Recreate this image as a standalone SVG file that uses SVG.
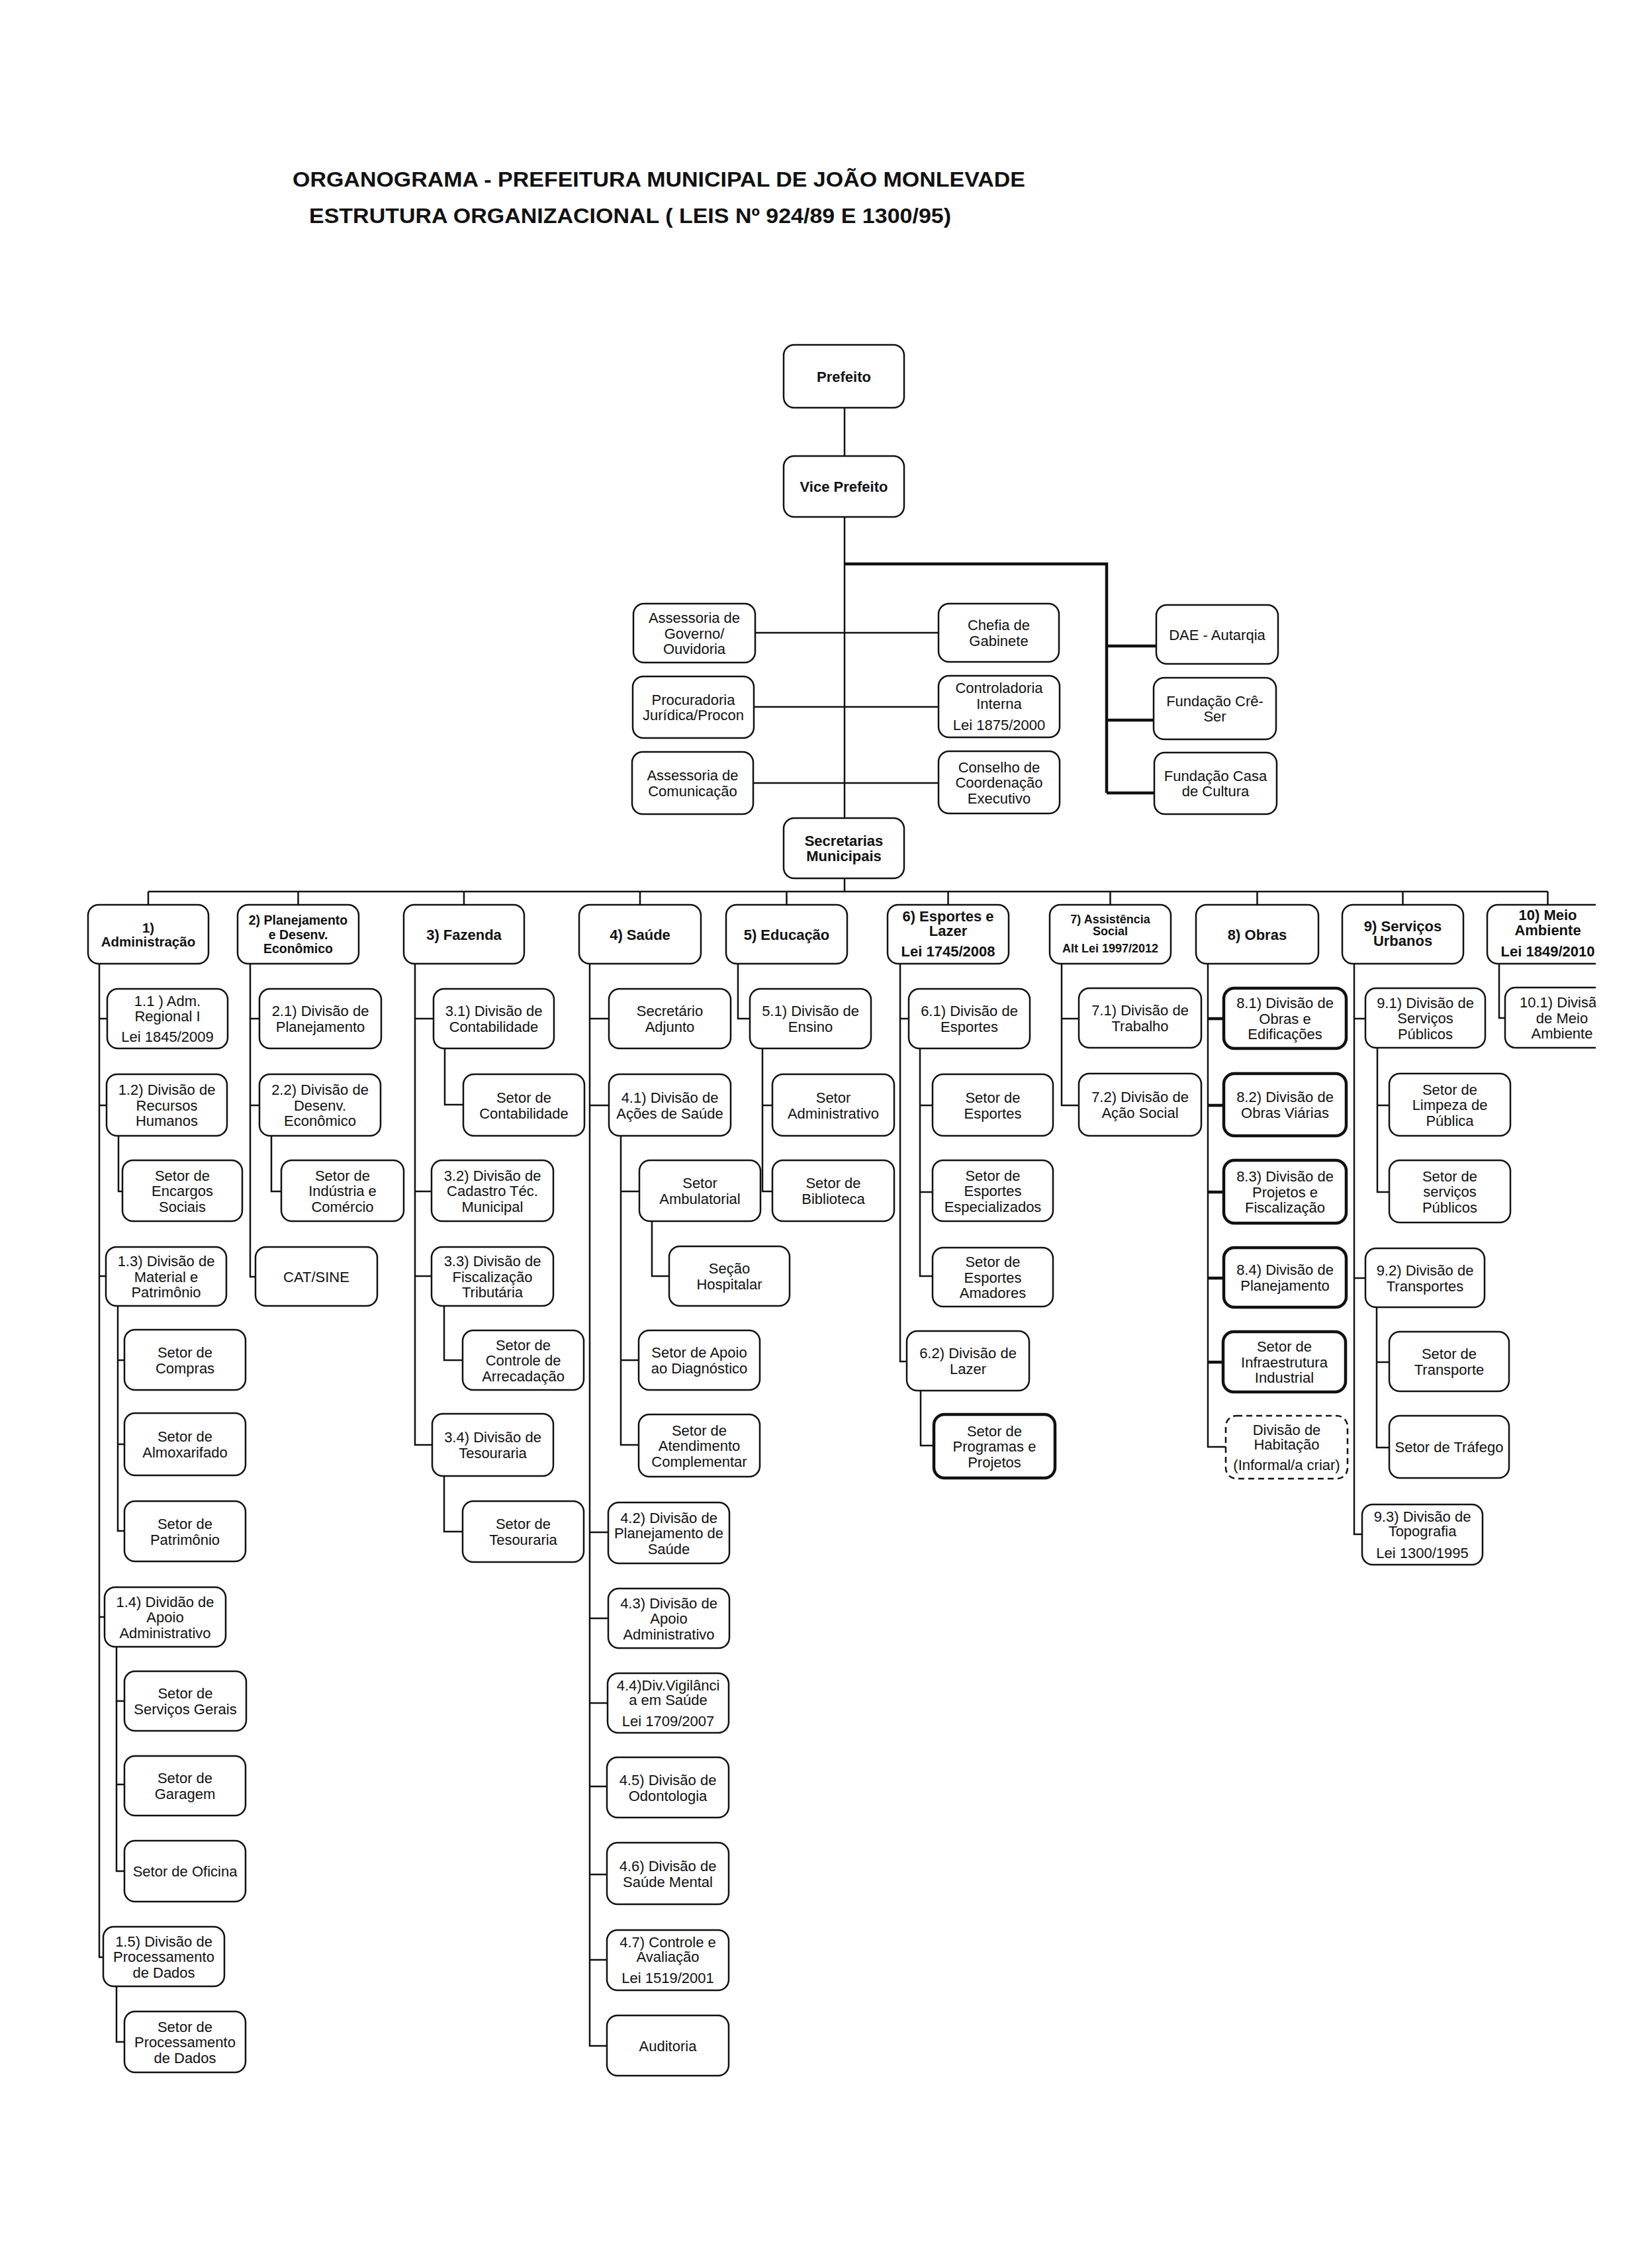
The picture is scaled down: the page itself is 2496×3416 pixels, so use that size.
<svg xmlns="http://www.w3.org/2000/svg" width="2496" height="3416" viewBox="0 0 2496 3416">
<style>
.b{fill:#fff;stroke:#111;stroke-width:2.5}
.bt{stroke-width:4.5}
.bd{stroke-dasharray:9 6}
text{font-family:"Liberation Sans",Arial,sans-serif;font-size:22px;fill:#111;text-anchor:middle}
.bo{font-weight:bold}
.c{fill:none;stroke:#111;stroke-width:2.5}
.ck{stroke-width:4.5}
.ttl{font-size:32px;font-weight:bold;text-anchor:start}
</style>
<defs>
<clipPath id="cut"><rect x="0" y="0" width="2411" height="3416"/></clipPath>
</defs>
<rect x="0" y="0" width="2496" height="3416" fill="#fff"/>
<g id="title">
<text class="ttl" x="442" y="282" textLength="1107" lengthAdjust="spacingAndGlyphs">ORGANOGRAMA - PREFEITURA MUNICIPAL DE JOÃO MONLEVADE</text>
<text class="ttl" x="467" y="337" textLength="970" lengthAdjust="spacingAndGlyphs">ESTRUTURA ORGANIZACIONAL ( LEIS Nº 924/89 E 1300/95)</text>
</g>
<g id="connectors">
<path class="c" d="M1276 616V689M1276 781V1236M1141 956H1418M1139 1068H1418M1138 1183H1418M1276 1327V1347M224 1347H2338.5"/>
<path class="c ck" d="M1276 852H1672V1198M1672 976H1747M1672 1088H1743M1672 1198H1744"/>
<path class="c" d="M224 1347V1367M450.5 1347V1367M701 1347V1367M967 1347V1367M1188.5 1347V1367M1432.5 1347V1367M1677.5 1347V1367M1899.5 1347V1367M2119.5 1347V1367M2338.5 1347V1367"/>
<path class="c" d="M150 1456V2957H156M150 1539H162M150 1670H161M150 1928H160M150 2443H158M179 1716V1800H185M178 1973V2313H188M178 2055H188M178 2182H188M176 2488V2827H188M176 2570H188M176 2696H188M176 3001V3085H188"/>
<path class="c" d="M378 1456V1929H386M378 1539H392M378 1670H392M410 1716V1800H425"/>
<path class="c" d="M627 1456V2183H653M627 1539H655M627 1800H652M627 1928H652M672 1584V1669H700M671 1973V2055H699M671 2230V2314H699"/>
<path class="c" d="M891 1456V3091H917M891 1539H920M891 1670H920M891 2315H919M891 2445H919M891 2573H918M891 2699H917M891 2832H917M891 2961H917M938 1716V2183H965M938 1800H966M938 2055H965M985 1845V1928H1011"/>
<path class="c" d="M1115 1456V1539H1133M1152 1584V1800H1167M1152 1670H1167"/>
<path class="c" d="M1360 1456V2057H1370M1360 1539H1373M1390 1584V1928H1409M1390 1670H1409M1390 1801H1409M1391 2101V2184H1411"/>
<path class="c" d="M1604 1456V1670H1630M1604 1539H1630"/>
<path class="c" d="M1825 1456V2186H1852"/>
<path class="c ck" d="M1825 1539H1849M1825 1670H1849M1825 1801H1849M1825 1931H1849M1825 2058H1848"/>
<path class="c" d="M2046 1456V2318H2058M2046 1539H2063M2046 1931H2063M2081 1583V1801H2099M2081 1670H2099M2080 1975V2187H2099M2080 2058H2099"/>
<path class="c" d="M2265 1456V1538H2274"/>
</g>
<g id="prefeito"><rect class="b" x="1184" y="521" width="182" height="95" rx="16"/><text class="bo" x="1275" y="576.5">Prefeito</text></g>
<g id="vice-prefeito"><rect class="b" x="1184" y="689" width="182" height="92" rx="16"/><text class="bo" x="1275" y="743">Vice Prefeito</text></g>
<g id="assessoria-governo"><rect class="b" x="957" y="912" width="184" height="89" rx="16"/><text x="1049"><tspan x="1049" y="941">Assessoria de</tspan><tspan x="1049" y="964.5">Governo/</tspan><tspan x="1049" y="988">Ouvidoria</tspan></text></g>
<g id="chefia-gabinete"><rect class="b" x="1418" y="912" width="182" height="88" rx="16"/><text x="1509"><tspan x="1509" y="952">Chefia de</tspan><tspan x="1509" y="976">Gabinete</tspan></text></g>
<g id="dae"><rect class="b" x="1747" y="914" width="184" height="89" rx="16"/><text x="1839" y="966.5">DAE - Autarqia</text></g>
<g id="procuradoria"><rect class="b" x="956" y="1022" width="183" height="93" rx="16"/><text x="1047.5"><tspan x="1047.5" y="1064.5">Procuradoria</tspan><tspan x="1047.5" y="1088">Jurídica/Procon</tspan></text></g>
<g id="controladoria"><rect class="b" x="1418" y="1021" width="183" height="93" rx="16"/><text x="1509.5"><tspan x="1509.5" y="1047">Controladoria</tspan><tspan x="1509.5" y="1071">Interna</tspan><tspan x="1509.5" y="1103">Lei 1875/2000</tspan></text></g>
<g id="fundacao-cre-ser"><rect class="b" x="1743" y="1024" width="185" height="93" rx="16"/><text x="1835.5"><tspan x="1835.5" y="1067">Fundação Crê-</tspan><tspan x="1835.5" y="1090">Ser</tspan></text></g>
<g id="assessoria-comunicacao"><rect class="b" x="955" y="1136" width="183" height="94" rx="16"/><text x="1046.5"><tspan x="1046.5" y="1179">Assessoria de</tspan><tspan x="1046.5" y="1203">Comunicação</tspan></text></g>
<g id="conselho"><rect class="b" x="1418" y="1135" width="183" height="94" rx="16"/><text x="1509.5"><tspan x="1509.5" y="1166.5">Conselho de</tspan><tspan x="1509.5" y="1190">Coordenação</tspan><tspan x="1509.5" y="1213.5">Executivo</tspan></text></g>
<g id="fundacao-casa-cultura"><rect class="b" x="1744" y="1137" width="185" height="93" rx="16"/><text x="1836.5"><tspan x="1836.5" y="1179.5">Fundação Casa</tspan><tspan x="1836.5" y="1203">de Cultura</tspan></text></g>
<g id="secretarias"><rect class="b" x="1184" y="1236" width="182" height="91" rx="16"/><text class="bo" x="1275"><tspan x="1275" y="1277.5">Secretarias</tspan><tspan x="1275" y="1301">Municipais</tspan></text></g>

<g id="d1"><rect class="b" x="133" y="1367" width="182" height="89" rx="16"/><text class="bo" style="font-size:20.5px"><tspan x="224" y="1409">1)</tspan><tspan x="224" y="1430">Administração</tspan></text></g>
<g id="d2"><rect class="b" x="359" y="1367" width="183" height="89" rx="16"/><text class="bo" style="font-size:19.5px"><tspan x="450.5" y="1397">2) Planejamento</tspan><tspan x="450.5" y="1419">e Desenv.</tspan><tspan x="450.5" y="1440">Econômico</tspan></text></g>
<g id="d3"><rect class="b" x="610" y="1367" width="182" height="89" rx="16"/><text class="bo" x="701" y="1419.5">3) Fazenda</text></g>
<g id="d4"><rect class="b" x="875" y="1367" width="184" height="89" rx="16"/><text class="bo" x="967" y="1419.5">4) Saúde</text></g>
<g id="d5"><rect class="b" x="1097" y="1367" width="183" height="89" rx="16"/><text class="bo" x="1188.5" y="1419.5">5) Educação</text></g>
<g id="d6"><rect class="b" x="1341" y="1367" width="183" height="89" rx="16"/><text class="bo"><tspan x="1432.5" y="1392">6) Esportes e</tspan><tspan x="1432.5" y="1414">Lazer</tspan><tspan x="1432.5" y="1445">Lei 1745/2008</tspan></text></g>
<g id="d7"><rect class="b" x="1586" y="1367" width="183" height="89" rx="16"/><text class="bo" style="font-size:18px"><tspan x="1677.5" y="1395">7) Assistência</tspan><tspan x="1677.5" y="1413">Social</tspan><tspan x="1677.5" y="1439">Alt Lei 1997/2012</tspan></text></g>
<g id="d8"><rect class="b" x="1807" y="1367" width="185" height="89" rx="16"/><text class="bo" x="1899.5" y="1419.5">8) Obras</text></g>
<g id="d9"><rect class="b" x="2028" y="1367" width="183" height="89" rx="16"/><text class="bo"><tspan x="2119.5" y="1407">9) Serviços</tspan><tspan x="2119.5" y="1429">Urbanos</tspan></text></g>
<g id="d10" clip-path="url(#cut)"><rect class="b" x="2247" y="1367" width="183" height="89" rx="16"/><text class="bo"><tspan x="2338.5" y="1390">10) Meio</tspan><tspan x="2338.5" y="1413">Ambiente</tspan><tspan x="2338.5" y="1445">Lei 1849/2010</tspan></text></g>

<g id="n1-1"><rect class="b" x="162" y="1494" width="182" height="90" rx="16"/><text><tspan x="253" y="1520">1.1 ) Adm.</tspan><tspan x="253" y="1543">Regional I</tspan><tspan x="253" y="1574">Lei 1845/2009</tspan></text></g>
<g id="n1-2"><rect class="b" x="161" y="1623" width="182" height="93" rx="16"/><text><tspan x="252" y="1654">1.2) Divisão de</tspan><tspan x="252" y="1677.5">Recursos</tspan><tspan x="252" y="1701">Humanos</tspan></text></g>
<g id="n1-2a"><rect class="b" x="185" y="1753" width="181" height="92" rx="16"/><text><tspan x="275.5" y="1783.5">Setor de</tspan><tspan x="275.5" y="1807">Encargos</tspan><tspan x="275.5" y="1830.5">Sociais</tspan></text></g>
<g id="n1-3"><rect class="b" x="160" y="1884" width="182" height="89" rx="16"/><text><tspan x="251" y="1913">1.3) Divisão de</tspan><tspan x="251" y="1936.5">Material e</tspan><tspan x="251" y="1960">Patrimônio</tspan></text></g>
<g id="n1-3a"><rect class="b" x="188" y="2009" width="183" height="91" rx="16"/><text><tspan x="279.5" y="2050.5">Setor de</tspan><tspan x="279.5" y="2074.5">Compras</tspan></text></g>
<g id="n1-3b"><rect class="b" x="188" y="2135" width="183" height="94" rx="16"/><text><tspan x="279.5" y="2178">Setor de</tspan><tspan x="279.5" y="2202">Almoxarifado</tspan></text></g>
<g id="n1-3c"><rect class="b" x="188" y="2268" width="183" height="91" rx="16"/><text><tspan x="279.5" y="2309.5">Setor de</tspan><tspan x="279.5" y="2333.5">Patrimônio</tspan></text></g>
<g id="n1-4"><rect class="b" x="158" y="2398" width="183" height="90" rx="16"/><text><tspan x="249.5" y="2427.5">1.4) Dividão de</tspan><tspan x="249.5" y="2451">Apoio</tspan><tspan x="249.5" y="2474.5">Administrativo</tspan></text></g>
<g id="n1-4a"><rect class="b" x="188" y="2525" width="184" height="90" rx="16"/><text><tspan x="280" y="2566">Setor de</tspan><tspan x="280" y="2590">Serviços Gerais</tspan></text></g>
<g id="n1-4b"><rect class="b" x="188" y="2653" width="183" height="90" rx="16"/><text><tspan x="279.5" y="2694">Setor de</tspan><tspan x="279.5" y="2718">Garagem</tspan></text></g>
<g id="n1-4c"><rect class="b" x="188" y="2781" width="183" height="92" rx="16"/><text x="279.5" y="2835">Setor de Oficina</text></g>
<g id="n1-5"><rect class="b" x="156" y="2911" width="183" height="90" rx="16"/><text><tspan x="247.5" y="2940.5">1.5) Divisão de</tspan><tspan x="247.5" y="2964">Processamento</tspan><tspan x="247.5" y="2987.5">de Dados</tspan></text></g>
<g id="n1-5a"><rect class="b" x="188" y="3039" width="183" height="92" rx="16"/><text><tspan x="279.5" y="3069.5">Setor de</tspan><tspan x="279.5" y="3093">Processamento</tspan><tspan x="279.5" y="3116.5">de Dados</tspan></text></g>

<g id="n2-1"><rect class="b" x="392" y="1494" width="184" height="90" rx="16"/><text><tspan x="484" y="1535">2.1) Divisão de</tspan><tspan x="484" y="1559">Planejamento</tspan></text></g>
<g id="n2-2"><rect class="b" x="392" y="1623" width="183" height="93" rx="16"/><text><tspan x="483.5" y="1654">2.2) Divisão de</tspan><tspan x="483.5" y="1677.5">Desenv.</tspan><tspan x="483.5" y="1701">Econômico</tspan></text></g>
<g id="n2-2a"><rect class="b" x="425" y="1753" width="185" height="92" rx="16"/><text><tspan x="517.5" y="1783.5">Setor de</tspan><tspan x="517.5" y="1807">Indústria e</tspan><tspan x="517.5" y="1830.5">Comércio</tspan></text></g>
<g id="n2-3"><rect class="b" x="386" y="1884" width="184" height="89" rx="16"/><text x="478" y="1936.5">CAT/SINE</text></g>

<g id="n3-1"><rect class="b" x="655" y="1494" width="182" height="90" rx="16"/><text><tspan x="746" y="1535">3.1) Divisão de</tspan><tspan x="746" y="1559">Contabilidade</tspan></text></g>
<g id="n3-1a"><rect class="b" x="700" y="1623" width="183" height="93" rx="16"/><text><tspan x="791.5" y="1665.5">Setor de</tspan><tspan x="791.5" y="1689.5">Contabilidade</tspan></text></g>
<g id="n3-2"><rect class="b" x="652" y="1753" width="184" height="92" rx="16"/><text><tspan x="744" y="1783.5">3.2) Divisão de</tspan><tspan x="744" y="1807">Cadastro Téc.</tspan><tspan x="744" y="1830.5">Municipal</tspan></text></g>
<g id="n3-3"><rect class="b" x="652" y="1884" width="184" height="89" rx="16"/><text><tspan x="744" y="1913">3.3) Divisão de</tspan><tspan x="744" y="1936.5">Fiscalização</tspan><tspan x="744" y="1960">Tributária</tspan></text></g>
<g id="n3-3a"><rect class="b" x="699" y="2010" width="183" height="90" rx="16"/><text><tspan x="790.5" y="2039.5">Setor de</tspan><tspan x="790.5" y="2063">Controle de</tspan><tspan x="790.5" y="2086.5">Arrecadação</tspan></text></g>
<g id="n3-4"><rect class="b" x="653" y="2136" width="183" height="94" rx="16"/><text><tspan x="744.5" y="2179">3.4) Divisão de</tspan><tspan x="744.5" y="2203">Tesouraria</tspan></text></g>
<g id="n3-4a"><rect class="b" x="699" y="2268" width="183" height="92" rx="16"/><text><tspan x="790.5" y="2310">Setor de</tspan><tspan x="790.5" y="2334">Tesouraria</tspan></text></g>

<g id="n4-0"><rect class="b" x="920" y="1494" width="184" height="90" rx="16"/><text><tspan x="1012" y="1535">Secretário</tspan><tspan x="1012" y="1559">Adjunto</tspan></text></g>
<g id="n4-1"><rect class="b" x="920" y="1623" width="184" height="93" rx="16"/><text><tspan x="1012" y="1665.5">4.1) Divisão de</tspan><tspan x="1012" y="1689.5">Ações de Saúde</tspan></text></g>
<g id="n4-1a"><rect class="b" x="966" y="1753" width="183" height="92" rx="16"/><text><tspan x="1057.5" y="1795">Setor</tspan><tspan x="1057.5" y="1819">Ambulatorial</tspan></text></g>
<g id="n4-1a1"><rect class="b" x="1011" y="1883" width="182" height="90" rx="16"/><text><tspan x="1102" y="1924">Seção</tspan><tspan x="1102" y="1948">Hospitalar</tspan></text></g>
<g id="n4-1b"><rect class="b" x="965" y="2010" width="183" height="90" rx="16"/><text><tspan x="1056.5" y="2051">Setor de Apoio</tspan><tspan x="1056.5" y="2075">ao Diagnóstico</tspan></text></g>
<g id="n4-1c"><rect class="b" x="965" y="2137" width="183" height="94" rx="16"/><text><tspan x="1056.5" y="2168.5">Setor de</tspan><tspan x="1056.5" y="2192">Atendimento</tspan><tspan x="1056.5" y="2215.5">Complementar</tspan></text></g>
<g id="n4-2"><rect class="b" x="919" y="2270" width="183" height="92" rx="16"/><text><tspan x="1010.5" y="2300.5">4.2) Divisão de</tspan><tspan x="1010.5" y="2324">Planejamento de</tspan><tspan x="1010.5" y="2347.5">Saúde</tspan></text></g>
<g id="n4-3"><rect class="b" x="919" y="2400" width="183" height="90" rx="16"/><text><tspan x="1010.5" y="2429.5">4.3) Divisão de</tspan><tspan x="1010.5" y="2453">Apoio</tspan><tspan x="1010.5" y="2476.5">Administrativo</tspan></text></g>
<g id="n4-4"><rect class="b" x="918" y="2528" width="183" height="90" rx="16"/><text><tspan x="1009.5" y="2554">4.4)Div.Vigilânci</tspan><tspan x="1009.5" y="2576">a em Saúde</tspan><tspan x="1009.5" y="2608">Lei 1709/2007</tspan></text></g>
<g id="n4-5"><rect class="b" x="917" y="2655" width="184" height="91" rx="16"/><text><tspan x="1009" y="2696.5">4.5) Divisão de</tspan><tspan x="1009" y="2720.5">Odontologia</tspan></text></g>
<g id="n4-6"><rect class="b" x="917" y="2784" width="184" height="93" rx="16"/><text><tspan x="1009" y="2826.5">4.6) Divisão de</tspan><tspan x="1009" y="2850.5">Saúde Mental</tspan></text></g>
<g id="n4-7"><rect class="b" x="917" y="2916" width="184" height="91" rx="16"/><text><tspan x="1009" y="2942">4.7) Controle e</tspan><tspan x="1009" y="2964">Avaliação</tspan><tspan x="1009" y="2996">Lei 1519/2001</tspan></text></g>
<g id="n4-8"><rect class="b" x="917" y="3045" width="184" height="91" rx="16"/><text x="1009" y="3098.5">Auditoria</text></g>

<g id="n5-1"><rect class="b" x="1133" y="1494" width="183" height="90" rx="16"/><text><tspan x="1224.5" y="1535">5.1) Divisão de</tspan><tspan x="1224.5" y="1559">Ensino</tspan></text></g>
<g id="n5-1a"><rect class="b" x="1167" y="1623" width="184" height="93" rx="16"/><text><tspan x="1259" y="1665.5">Setor</tspan><tspan x="1259" y="1689.5">Administrativo</tspan></text></g>
<g id="n5-1b"><rect class="b" x="1167" y="1753" width="184" height="92" rx="16"/><text><tspan x="1259" y="1795">Setor de</tspan><tspan x="1259" y="1819">Biblioteca</tspan></text></g>

<g id="n6-1"><rect class="b" x="1373" y="1494" width="183" height="90" rx="16"/><text><tspan x="1464.5" y="1535">6.1) Divisão de</tspan><tspan x="1464.5" y="1559">Esportes</tspan></text></g>
<g id="n6-1a"><rect class="b" x="1409" y="1623" width="182" height="93" rx="16"/><text><tspan x="1500" y="1665.5">Setor de</tspan><tspan x="1500" y="1689.5">Esportes</tspan></text></g>
<g id="n6-1b"><rect class="b" x="1409" y="1753" width="182" height="92" rx="16"/><text><tspan x="1500" y="1783.5">Setor de</tspan><tspan x="1500" y="1807">Esportes</tspan><tspan x="1500" y="1830.5">Especializados</tspan></text></g>
<g id="n6-1c"><rect class="b" x="1409" y="1885" width="182" height="89" rx="16"/><text><tspan x="1500" y="1914">Setor de</tspan><tspan x="1500" y="1937.5">Esportes</tspan><tspan x="1500" y="1961">Amadores</tspan></text></g>
<g id="n6-2"><rect class="b" x="1370" y="2011" width="185" height="90" rx="16"/><text><tspan x="1462.5" y="2052">6.2) Divisão de</tspan><tspan x="1462.5" y="2076">Lazer</tspan></text></g>
<g id="n6-2a"><rect class="b bt" x="1411" y="2137" width="183" height="96" rx="16"/><text><tspan x="1502.5" y="2169.5">Setor de</tspan><tspan x="1502.5" y="2193">Programas e</tspan><tspan x="1502.5" y="2216.5">Projetos</tspan></text></g>

<g id="n7-1"><rect class="b" x="1630" y="1493" width="185" height="90" rx="16"/><text><tspan x="1722.5" y="1534">7.1) Divisão de</tspan><tspan x="1722.5" y="1558">Trabalho</tspan></text></g>
<g id="n7-2"><rect class="b" x="1630" y="1622" width="185" height="94" rx="16"/><text><tspan x="1722.5" y="1665">7.2) Divisão de</tspan><tspan x="1722.5" y="1689">Ação Social</tspan></text></g>

<g id="n8-1"><rect class="b bt" x="1849" y="1493" width="185" height="91" rx="16"/><text><tspan x="1941.5" y="1523">8.1) Divisão de</tspan><tspan x="1941.5" y="1546.5">Obras e</tspan><tspan x="1941.5" y="1570">Edificações</tspan></text></g>
<g id="n8-2"><rect class="b bt" x="1849" y="1622" width="185" height="94" rx="16"/><text><tspan x="1941.5" y="1665">8.2) Divisão de</tspan><tspan x="1941.5" y="1689">Obras Viárias</tspan></text></g>
<g id="n8-3"><rect class="b bt" x="1849" y="1753" width="185" height="95" rx="16"/><text><tspan x="1941.5" y="1785">8.3) Divisão de</tspan><tspan x="1941.5" y="1808.5">Projetos e</tspan><tspan x="1941.5" y="1832">Fiscalização</tspan></text></g>
<g id="n8-4"><rect class="b bt" x="1849" y="1885" width="185" height="90" rx="16"/><text><tspan x="1941.5" y="1926">8.4) Divisão de</tspan><tspan x="1941.5" y="1950">Planejamento</tspan></text></g>
<g id="n8-5"><rect class="b bt" x="1848" y="2012" width="185" height="91" rx="16"/><text><tspan x="1940.5" y="2042">Setor de</tspan><tspan x="1940.5" y="2065.5">Infraestrutura</tspan><tspan x="1940.5" y="2089">Industrial</tspan></text></g>
<g id="n8-6"><rect class="b bd" x="1852" y="2139" width="184" height="95" rx="16"/><text><tspan x="1944" y="2168">Divisão de</tspan><tspan x="1944" y="2190">Habitação</tspan><tspan x="1944" y="2221">(Informal/a criar)</tspan></text></g>

<g id="n9-1"><rect class="b" x="2063" y="1493" width="181" height="90" rx="16"/><text><tspan x="2153.5" y="1522.5">9.1) Divisão de</tspan><tspan x="2153.5" y="1546">Serviços</tspan><tspan x="2153.5" y="1569.5">Públicos</tspan></text></g>
<g id="n9-1a"><rect class="b" x="2099" y="1622" width="183" height="94" rx="16"/><text><tspan x="2190.5" y="1653.5">Setor de</tspan><tspan x="2190.5" y="1677">Limpeza de</tspan><tspan x="2190.5" y="1700.5">Pública</tspan></text></g>
<g id="n9-1b"><rect class="b" x="2099" y="1753" width="183" height="94" rx="16"/><text><tspan x="2190.5" y="1784.5">Setor de</tspan><tspan x="2190.5" y="1808">serviços</tspan><tspan x="2190.5" y="1831.5">Públicos</tspan></text></g>
<g id="n9-2"><rect class="b" x="2063" y="1886" width="180" height="89" rx="16"/><text><tspan x="2153" y="1926.5">9.2) Divisão de</tspan><tspan x="2153" y="1950.5">Transportes</tspan></text></g>
<g id="n9-2a"><rect class="b" x="2099" y="2012" width="181" height="90" rx="16"/><text><tspan x="2189.5" y="2053">Setor de</tspan><tspan x="2189.5" y="2077">Transporte</tspan></text></g>
<g id="n9-2b"><rect class="b" x="2099" y="2139" width="181" height="94" rx="16"/><text x="2189.5" y="2194">Setor de Tráfego</text></g>
<g id="n9-3"><rect class="b" x="2058" y="2273" width="182" height="91" rx="16"/><text><tspan x="2149" y="2299">9.3) Divisão de</tspan><tspan x="2149" y="2321">Topografia</tspan><tspan x="2149" y="2354">Lei 1300/1995</tspan></text></g>

<g id="n10-1" clip-path="url(#cut)"><rect class="b" x="2274" y="1492" width="180" height="91" rx="16"/><text x="2296" y="1522" style="text-anchor:start">10.1) Divisã</text><text><tspan x="2360" y="1545.5">de Meio</tspan><tspan x="2360" y="1569">Ambiente</tspan></text></g>
</svg>
